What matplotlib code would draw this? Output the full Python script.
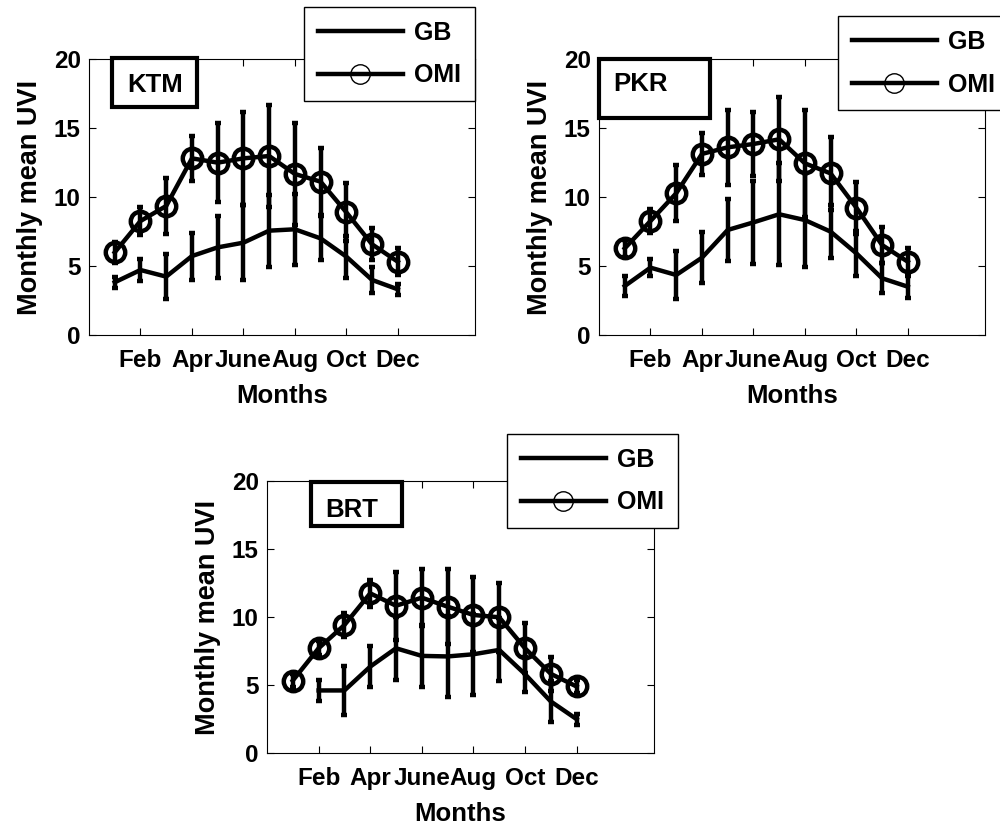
import numpy as np
import matplotlib
matplotlib.use("Agg")
import matplotlib.pyplot as plt
from matplotlib.lines import Line2D
from matplotlib.patches import Rectangle

plt.rcParams['font.family'] = ['Liberation Sans', 'DejaVu Sans']
plt.rcParams['font.weight'] = 'bold'

months = np.arange(1, 13)
tick_pos = [2, 4, 6, 8, 10, 12]
tick_labels = ['Feb', 'Apr', 'June', 'Aug', 'Oct', 'Dec']
y_ticks = [0, 5, 10, 15, 20]

ktm_gb = [3.82, 4.71, 4.23, 5.72, 6.35, 6.69, 7.56, 7.66, 7.00, 5.68, 3.99, 3.31]
ktm_gb_err = [0.40, 0.80, 1.63, 1.70, 2.25, 2.70, 2.60, 2.59, 1.60, 1.53, 0.92, 0.40]
ktm_omi = [5.99, 8.26, 9.35, 12.80, 12.49, 12.80, 12.97, 11.67, 11.11, 8.89, 6.57, 5.31]
ktm_omi_err = [0.77, 1.00, 2.05, 1.65, 2.84, 3.36, 3.67, 3.67, 2.42, 2.10, 1.16, 0.97]

pkr_gb = [3.55, 4.88, 4.35, 5.60, 7.61, 8.16, 8.75, 8.33, 7.49, 5.92, 4.11, 3.50]
pkr_gb_err = [0.70, 0.60, 1.75, 1.86, 2.24, 3.00, 3.70, 3.40, 1.93, 1.62, 1.09, 0.80]
pkr_omi = [6.28, 8.26, 10.27, 13.12, 13.60, 13.84, 14.18, 12.44, 11.71, 9.23, 6.52, 5.31]
pkr_omi_err = [0.60, 0.90, 2.03, 1.55, 2.70, 2.30, 3.04, 3.86, 2.66, 1.88, 1.33, 0.97]

brt_gb = [np.nan, 4.60, 4.60, 6.35, 7.70, 7.14, 7.10, 7.26, 7.58, 5.80, 3.79, 2.49]
brt_gb_err = [np.nan, 0.80, 1.83, 1.50, 2.30, 2.30, 2.96, 2.98, 2.32, 1.28, 1.54, 0.40]
brt_omi = [5.33, 7.70, 9.41, 11.74, 10.83, 11.42, 10.76, 10.15, 9.98, 7.70, 5.82, 4.89]
brt_omi_err = [0.50, 0.50, 0.86, 1.00, 2.50, 2.08, 2.74, 2.76, 2.54, 1.84, 1.27, 0.50]

stations = ['KTM', 'PKR', 'BRT']
W, H = 1000, 827
fig = plt.figure(figsize=(10, 8.27), dpi=100)

def fx(px):
    return px / W

def fy(py):
    return 1 - py / H

panels = [
    dict(ax=(89, 59, 475, 335), gb=ktm_gb, gbe=ktm_gb_err, omi=ktm_omi, omie=ktm_omi_err,
         box=(112, 58, 197, 107), txt=(155, 85, 'center'), leg=(304, 7, 180, 104)),
    dict(ax=(599, 59, 985, 335), gb=pkr_gb, gbe=pkr_gb_err, omi=pkr_omi, omie=pkr_omi_err,
         box=(599, 59, 710, 118), txt=(613, 84, 'left'), leg=(838, 16, 180, 91)),
    dict(ax=(267, 481, 654, 753), gb=brt_gb, gbe=brt_gb_err, omi=brt_omi, omie=brt_omi_err,
         box=(311, 482, 402, 526), txt=(325, 510, 'left'), leg=(507, 434, 182, 92)),
]

for name, p in zip(stations, panels):
    x0, y0, x1, y1 = p['ax']
    ax = fig.add_axes([fx(x0), fy(y1), (x1 - x0) / W, (y1 - y0) / H])
    ax.errorbar(months, p['gb'], yerr=p['gbe'], fmt='-', color='black', lw=3.2,
                elinewidth=3.2, capsize=2.5, capthick=3.2, zorder=2)
    ax.errorbar(months, p['omi'], yerr=p['omie'], fmt='-o', color='black', lw=3.2,
                elinewidth=3.2, capsize=2.5, capthick=3.2, ms=14, mfc='none',
                mec='black', mew=3.2, zorder=3)
    ax.set_xlim(0, 15)
    ax.set_ylim(0, 20)
    ax.set_xticks(tick_pos)
    ax.set_xticklabels(tick_labels)
    ax.set_yticks(y_ticks)
    ax.tick_params(direction='in', top=True, right=True, length=5, width=0.8,
                   labelsize=17.5)
    ax.tick_params(axis='x', pad=10)
    ax.tick_params(axis='y', pad=6)
    for lab in ax.get_xticklabels() + ax.get_yticklabels():
        lab.set_fontweight('bold')
    for s in ax.spines.values():
        s.set_linewidth(0.8)
    ax.set_xlabel('Months', fontsize=18.5, fontweight='bold', labelpad=9)
    ax.set_ylabel('Monthly mean UVI', fontsize=19.5, fontweight='bold', labelpad=8)

    bx0, by0, bx1, by1 = p['box']
    fig.add_artist(Rectangle((fx(bx0), fy(by1)), (bx1 - bx0) / W, (by1 - by0) / H,
                             transform=fig.transFigure, fill=True, facecolor='white',
                             edgecolor='black', lw=3, zorder=5))
    tx, ty, ha = p['txt']
    fig.text(fx(tx), fy(ty), name, ha=ha, va='center', fontsize=18.5,
             fontweight='bold', zorder=6)

    lx, ly, lw_, lh = p['leg']
    handles = [Line2D([0], [0], color='black', lw=3.2),
               Line2D([0], [0], color='black', lw=3.2, marker='o', ms=14,
                      mfc='none', mec='black', mew=1)]
    leg = fig.legend(handles, ['GB', 'OMI'], loc='upper left',
                     bbox_to_anchor=(fx(lx), fy(ly)), bbox_transform=fig.transFigure,
                     fancybox=False, edgecolor='black', framealpha=1,
                     prop={'size': 18, 'weight': 'bold'}, handlelength=3.4,
                     handletextpad=0.45, labelspacing=0.75, borderpad=0.55,
                     borderaxespad=0)
    leg.get_frame().set_linewidth(1)
    leg.set_zorder(7)

fig.savefig('out.png', dpi=100)
